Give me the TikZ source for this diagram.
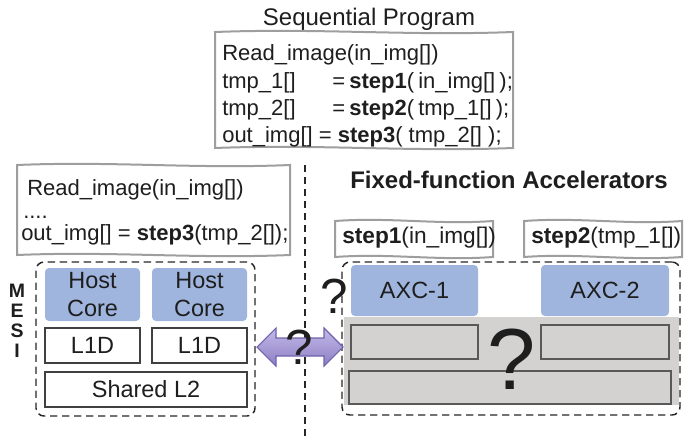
\documentclass[tikz,border=0pt]{standalone}
\usepackage{fontspec}
\setmainfont{Liberation Sans}
\usetikzlibrary{calc}
\definecolor{axblue}{RGB}{159,181,222}
\definecolor{axgray}{RGB}{212,209,209}
\definecolor{docgray}{RGB}{158,158,158}
\definecolor{txt}{RGB}{30,30,30}
\definecolor{arrowtop}{RGB}{196,186,232}
\definecolor{arrowbot}{RGB}{140,126,196}
\definecolor{arrowedge}{RGB}{112,98,172}
\newcommand{\wavybox}[4]{%
  \draw[docstyle] (#1,#2) .. controls ({#1+(#3-#1)*0.35},{#2-4}) and ({#1+(#3-#1)*0.65},{#2+4}) .. (#3,#2)
    -- (#3,#4) .. controls ({#1+(#3-#1)*0.65},{#4+4}) and ({#1+(#3-#1)*0.35},{#4-4}) .. (#1,#4) -- cycle;}
\newcommand{\tsp}{\hspace{0.19em}}
\begin{document}
\begin{tikzpicture}[x=0.75pt,y=-0.75pt,
  every node/.style={text=txt},
  docstyle/.style={draw=docgray, line width=1.5pt, fill=white},
  codetxt/.style={font=\fontsize{16.5}{19}\selectfont, inner sep=0pt, anchor=base west},
  steptxt/.style={font=\fontsize{17}{19}\selectfont, inner sep=0pt, anchor=base west},
  lbl/.style={font=\fontsize{17.6}{21}\selectfont, align=center, inner sep=0pt},
  corebox/.style={lbl, fill=axblue, rounded corners=3pt, draw=none},
  cachebox/.style={lbl, draw=black!75, line width=0.8pt, fill=white},
  graybox/.style={draw=black!65, line width=0.8pt, fill=axgray, inner sep=0pt},
  dashbox/.style={draw=black!85, dash pattern=on 5.5pt off 3.5pt, line width=1.1pt, rounded corners=6pt, inner sep=0pt},
  mesi/.style={font=\fontsize{14.6}{16}\selectfont\bfseries, anchor=base, inner sep=0pt},
  qmark/.style={inner sep=0pt, anchor=center}
]
\useasboundingbox (0,0) rectangle (689,440);

% separator
\coordinate (septop) at (305,165);
\coordinate (sepbot) at (305,440);
\draw[black!85, dash pattern=on 5.5pt off 3.5pt, line width=1.1pt] (septop) -- (sepbot);

% title and sequential program
\node[font=\fontsize{18}{20}\selectfont, anchor=base, inner sep=0pt] (title) at (369,25) {Sequential Program};
\wavybox{215}{32}{513}{148}
\node[codetxt] (p1) at (222,60) {Read\_image(in\_img[])};
\node[codetxt] (p2a) at (222,88) {tmp\_1[]};
\node[codetxt] (p2b) at (332,88) {=\tsp\textbf{step1}(\tsp in\_img[]\tsp);};
\node[codetxt] (p3a) at (222,115) {tmp\_2[]};
\node[codetxt] (p3b) at (332,115) {=\tsp\textbf{step2}(\tsp tmp\_1[]\tsp);};
\node[codetxt] (p4) at (222,142) {out\_img[] = \textbf{step3}( tmp\_2[] );};

% left program
\wavybox{17}{165}{290}{255}
\node[codetxt] (l1) at (27,195) {Read\_image(in\_img[])};
\node[codetxt] (l2) at (23,218) {....};
\node[codetxt] (l3) at (21,240) {out\_img[] = \textbf{step3}(tmp\_2[]);};

% accelerators heading
\node[font=\fontsize{18}{20}\selectfont\bfseries, anchor=base, inner sep=0pt] (acctitle) at (509,188) {Fixed-function Accelerators};
\wavybox{335}{221}{493}{257}
\node[steptxt] (s1) at (342,243) {\textbf{step1}(in\_img[])};
\wavybox{524}{221}{682}{257}
\node[steptxt] (s2) at (531,243) {\textbf{step2}(tmp\_1[])};

% host side
\node[dashbox, minimum width=164.25pt, minimum height=115.5pt] (hostbox) at (145.5,339) {};
\node[corebox, minimum width=71.25pt, minimum height=39.75pt] (hc1) at (92.5,294.5) {Host\\Core};
\node[corebox, minimum width=71.25pt, minimum height=39.75pt] (hc2) at (199.5,294.5) {Host\\Core};
\node[cachebox, minimum width=71.25pt, minimum height=26.25pt] (l1a) at (92.5,345.5) {L1D};
\node[cachebox, minimum width=71.25pt, minimum height=26.25pt] (l1b) at (199.5,345.5) {L1D};
\node[cachebox, minimum width=151.5pt, minimum height=26.25pt] (l2) at (146,389.5) {Shared L2};

\node[mesi] (mM) at (17,297) {M};
\node[mesi] (mE) at (17,317) {E};
\node[mesi] (mS) at (17,337) {S};
\node[mesi] (mI) at (17,357) {I};

% accelerator side
\fill[axgray] (344,317) rectangle (679,405);
\node[dashbox, minimum width=253.5pt, minimum height=114.75pt] (axcbox) at (511,338.5) {};
\node[corebox, minimum width=95.25pt, minimum height=38.25pt] (axc1) at (414.5,290.5) {AXC-1};
\node[corebox, minimum width=96pt, minimum height=38.25pt] (axc2) at (605,290.5) {AXC-2};
\node[graybox, minimum width=95.25pt, minimum height=25.5pt] (g1) at (414.5,342) {};
\node[graybox, minimum width=96pt, minimum height=25.5pt] (g2) at (605,342) {};
\node[graybox, minimum width=241.5pt, minimum height=24.75pt] (g3) at (510,387.5) {};
\node[qmark, font=\fontsize{65}{70}\selectfont] (bigq) at (512,359) {?};
\node[qmark, font=\fontsize{37}{40}\selectfont] (q1) at (334,296) {?};

% coherence arrow
\draw[arrowedge, line width=0.8pt, top color=arrowtop, bottom color=arrowbot]
  (257,347) -- (276,328) -- (276,338) -- (324,338) -- (324,328) -- (343,347)
  -- (324,366) -- (324,356) -- (276,356) -- (276,366) -- cycle;
\node[qmark, font=\fontsize{37}{40}\selectfont] (q2) at (299,347) {?};
\end{tikzpicture}
\end{document}
